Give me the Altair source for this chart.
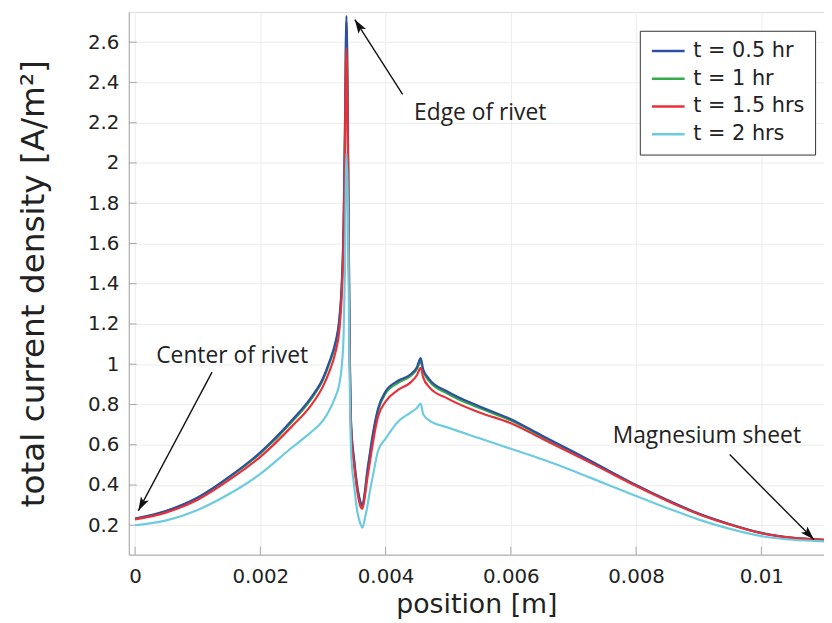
import math
import altair as alt
import pandas as pd

# ---------------- data ----------------
x_pos = [0, 0.0005, 0.001, 0.0015, 0.002, 0.0025, 0.0028, 0.003, 0.0031, 0.0032,
         0.00326, 0.0033, 0.00333, 0.00335, 0.003375, 0.0034, 0.00342, 0.00345,
         0.0035, 0.00355, 0.0036, 0.00363, 0.00367, 0.0037, 0.00375, 0.0038,
         0.00388, 0.004, 0.0042, 0.0044, 0.0045, 0.00456, 0.0046, 0.0047, 0.005,
         0.0055, 0.006, 0.0065, 0.007, 0.0075, 0.008, 0.0085, 0.009, 0.0095,
         0.01, 0.0105, 0.011]
t05 = [0.233, 0.272, 0.338, 0.440, 0.562, 0.720, 0.830, 0.930, 1.010, 1.110,
       1.220, 1.400, 1.700, 2.150, 2.730, 2.100, 1.300, 0.700,
       0.520, 0.390, 0.315, 0.300, 0.370, 0.450, 0.560, 0.660,
       0.780, 0.865, 0.918, 0.950, 0.985, 1.030, 0.975, 0.925, 0.862,
       0.790, 0.727, 0.645, 0.565, 0.482, 0.400, 0.325, 0.258, 0.205,
       0.162, 0.138, 0.128]
t1 = [0.232, 0.270, 0.336, 0.437, 0.557, 0.712, 0.822, 0.922, 1.002, 1.100,
      1.210, 1.390, 1.690, 2.130, 2.700, 2.080, 1.290, 0.690,
      0.510, 0.380, 0.308, 0.294, 0.362, 0.440, 0.550, 0.650,
      0.770, 0.855, 0.908, 0.942, 0.975, 1.012, 0.965, 0.915, 0.852,
      0.782, 0.720, 0.640, 0.560, 0.480, 0.398, 0.323, 0.256, 0.204,
      0.161, 0.137, 0.128]
t15 = [0.229, 0.264, 0.327, 0.425, 0.540, 0.690, 0.792, 0.890, 0.962, 1.060,
       1.165, 1.340, 1.620, 2.050, 2.570, 2.000, 1.250, 0.660,
       0.490, 0.365, 0.292, 0.282, 0.345, 0.415, 0.515, 0.615,
       0.740, 0.815, 0.872, 0.910, 0.945, 0.982, 0.935, 0.885, 0.828,
       0.760, 0.707, 0.630, 0.553, 0.474, 0.395, 0.321, 0.255, 0.203,
       0.160, 0.137, 0.128]
t2 = [0.200, 0.224, 0.276, 0.355, 0.455, 0.585, 0.660, 0.720, 0.770, 0.840,
      0.900, 0.990, 1.150, 1.450, 2.050, 1.750, 1.100, 0.560,
      0.390, 0.265, 0.205, 0.188, 0.235, 0.280, 0.370, 0.450,
      0.570, 0.630, 0.715, 0.760, 0.782, 0.805, 0.752, 0.720, 0.685,
      0.632, 0.580, 0.528, 0.470, 0.407, 0.345, 0.285, 0.228, 0.182,
      0.146, 0.128, 0.120]

series_names = ["t = 0.5 hr", "t = 1 hr", "t = 1.5 hrs", "t = 2 hrs"]
series_values = [t05, t1, t15, t2]
series_colors = ["#2f4f9f", "#35aa4a", "#e8303a", "#6dcbe0"]
draw_order = ["t = 1 hr", "t = 0.5 hr", "t = 1.5 hrs", "t = 2 hrs"]

x_ticks = [0, 0.002, 0.004, 0.006, 0.008, 0.01]
y_ticks = [0.2, 0.4, 0.6, 0.8, 1, 1.2, 1.4, 1.6, 1.8, 2, 2.2, 2.4, 2.6]

note_text = ["Edge of rivet", "Center of rivet", "Magnesium sheet"]
note_x = [0.00551, 0.00155, 0.00913]
note_y = [2.248, 1.043, 0.644]
arrow_tail_x = [0.004272, 0.001229, 0.009494]
arrow_tail_y = [2.341, 0.961, 0.551]
arrow_tip_x = [0.003508, 0.000052, 0.010839]
arrow_tip_y = [2.712, 0.272, 0.129]

# ---------------- layout ----------------
X_DOMAIN = [-0.0001, 0.011]
Y_DOMAIN = [0.054, 2.75]
W, H = 702, 548

rows = []
for name, vals in zip(series_names, series_values):
    for xv, yv in zip(x_pos, vals):
        rows.append({"position": xv, "density": yv, "series": name})
df = pd.DataFrame(rows)

sx = W / (X_DOMAIN[1] - X_DOMAIN[0])
sy = H / (Y_DOMAIN[1] - Y_DOMAIN[0])
angles = []
for tx, ty, hx, hy in zip(arrow_tail_x, arrow_tail_y, arrow_tip_x, arrow_tip_y):
    dx = (hx - tx) * sx
    dy = -(hy - ty) * sy
    angles.append(math.degrees(math.atan2(dx, -dy)) % 360)

arrows = pd.DataFrame({"x": arrow_tail_x, "y": arrow_tail_y,
                       "x2": arrow_tip_x, "y2": arrow_tip_y, "angle": angles})
notes = pd.DataFrame({"text": note_text, "x": note_x, "y": note_y})

FONT = "DejaVu Sans"
TXT = "#222222"

xscale = alt.Scale(domain=X_DOMAIN, nice=False, zero=False)
yscale = alt.Scale(domain=Y_DOMAIN, nice=False, zero=False)

x_axis = alt.Axis(values=x_ticks, format="~g", title="position [m]",
                  labelFont=FONT, labelFontSize=20, labelColor=TXT,
                  titleFont=FONT, titleFontSize=27, titleFontWeight="normal",
                  titleColor=TXT, grid=True, gridColor="#ececec",
                  domainColor="#a8a8a8", ticks=False, labelPadding=12,
                  titlePadding=5, labelFlush=False)
y_axis = alt.Axis(values=y_ticks, format="~g", title="total current density [A/m²]",
                  labelFont=FONT, labelFontSize=20, labelColor=TXT,
                  titleFont=FONT, titleFontSize=33, titleFontWeight="normal",
                  titleColor=TXT, grid=True, gridColor="#ececec",
                  domainColor="#a8a8a8", ticks=False, labelPadding=10,
                  titlePadding=37)


def X(field):
    return alt.X(field, scale=xscale, axis=x_axis)


def Y(field):
    return alt.Y(field, scale=yscale, axis=y_axis)


color = alt.Color("series:N",
                  scale=alt.Scale(domain=series_names, range=series_colors),
                  legend=alt.Legend(title=None, orient="none", legendX=516, legendY=19,
                                    symbolType="M-1,0H3", symbolSize=272,
                                    symbolStrokeWidth=2.5, labelFont=FONT,
                                    labelFontSize=21, labelColor=TXT,
                                    labelOffset=23, rowPadding=6, padding=10,
                                    strokeColor="#333333", fillColor="white",
                                    labelLimit=300))

xtick_df = pd.DataFrame({"v": x_ticks})
ytick_df = pd.DataFrame({"v": y_ticks})
xticks_layer = alt.Chart(xtick_df).mark_rule(color="#a8a8a8", strokeWidth=1).encode(
    x=X("v:Q"), y=alt.value(H), y2=alt.value(H - 8))
yticks_layer = alt.Chart(ytick_df).mark_rule(color="#a8a8a8", strokeWidth=1).encode(
    y=Y("v:Q"), x=alt.value(0), x2=alt.value(8))

layers = []
for name in draw_order:
    layer = alt.Chart(df).transform_filter(alt.datum.series == name).mark_line(
        strokeWidth=2.2, interpolate="monotone").encode(
        x=X("position:Q"), y=Y("density:Q"), color=color)
    layers.append(layer)

arrow_lines = alt.Chart(arrows).mark_rule(color="#111111", strokeWidth=1.4).encode(
    x=X("x:Q"), y=Y("y:Q"), x2="x2:Q", y2="y2:Q")
arrow_heads = alt.Chart(arrows).mark_point(
    shape="M0,0 L0.45,1.4 L0,1.1 L-0.45,1.4 Z", filled=True, color="#111111",
    size=400, opacity=1).encode(
    x=X("x2:Q"), y=Y("y2:Q"), angle=alt.Angle("angle:Q", scale=None))
note_layer = alt.Chart(notes).mark_text(font="Open Sans", fontSize=23, color=TXT).encode(
    x=X("x:Q"), y=Y("y:Q"), text="text:N")

chart = alt.layer(xticks_layer, yticks_layer, *layers, arrow_lines, arrow_heads,
                  note_layer).properties(
    width=W, height=H, autosize=alt.AutoSizeParams(type="none"),
    padding={"left": 122, "top": 1, "right": 0, "bottom": 64},
).configure_view(stroke="#dddddd").configure(background="white")

chart.save("out.html", embed_options={"renderer": "svg", "actions": False})
